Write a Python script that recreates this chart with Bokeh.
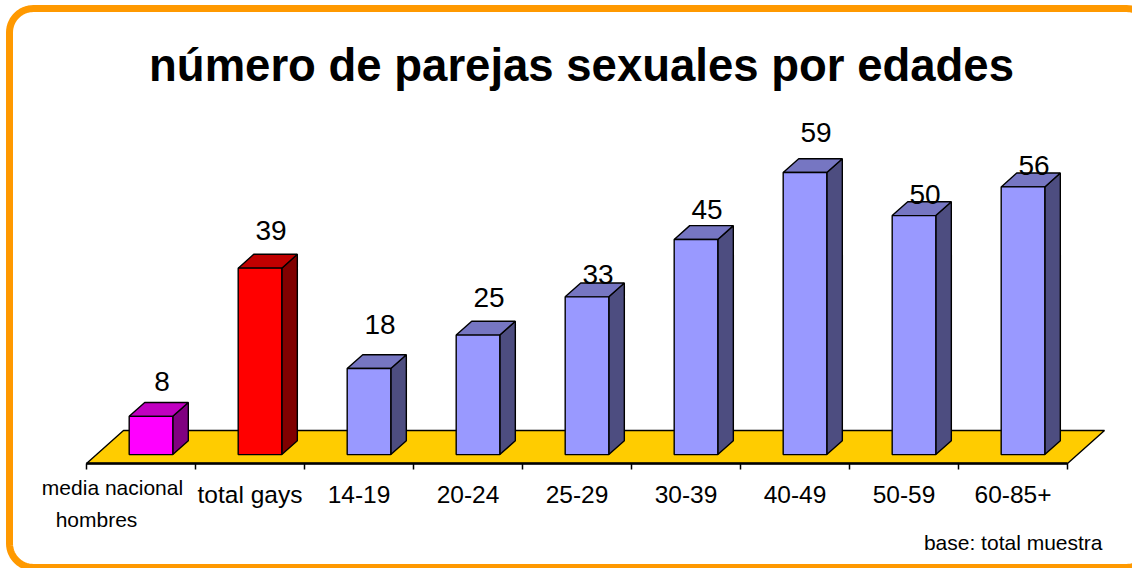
import numpy as np
from bokeh.plotting import figure
from bokeh.models import FixedTicker
from bokeh.core.properties import value
from bokeh.embed import file_html
from bokeh.resources import INLINE

# ---------------- data ----------------
categories = ["media nacional hombres", "total gays", "14-19", "20-24", "25-29",
              "30-39", "40-49", "50-59", "60-85+"]
values = [8, 39, 18, 25, 33, 45, 59, 50, 56]
front_colors = ["#FF00FF", "#FF0000"] + ["#9999FF"] * 7
top_colors = ["#C000C0", "#C00000"] + ["#7676C2"] * 7
side_colors = ["#800080", "#800000"] + ["#4D4D80"] * 7
title_text = "número de parejas sexuales por edades"
note_text = "base: total muestra"

# style: gap (px) between bar top and its value label, as placed in the original
label_gap_px = [24, 27, 34, 27, 12, 20, 30, 11, 11]

# ---------------- geometry (3D oblique projection) ----------------
W, H = 1132, 568
X0_PX, Y0_PX = 86.0, 463.0   # where x=0 / y=0 sit on the canvas
PX_X = 109.0                 # pixels per category
PX_Y = 4.78                  # pixels per value unit
DX = 37.0 / PX_X             # floor depth, x component (category units)
DY = 33.0 / PX_Y             # floor depth, y component (value units)
D0, D1 = 0.27, 0.69          # bar depth extent (fraction of floor depth)
BAR_W = 0.40
LABEL_D = 0.57
FB = 568.0                   # frame bottom (canvas px)
TXT = 0.37                   # renderer baseline correction (em)

FONT = "Liberation Sans"


def dx_(px):
    return (px - X0_PX) / PX_X


def dy_(py):
    return (Y0_PX - py) / PX_Y


p = figure(width=W, height=H, x_range=(dx_(0), dx_(W)), y_range=(dy_(FB), dy_(0)),
           output_backend="svg", toolbar_location=None, y_axis_location=None,
           min_border_left=0, min_border_right=0, min_border_top=0, min_border_bottom=0)
p.background_fill_color = "white"
p.border_fill_color = "white"
p.outline_line_color = None
p.xgrid.visible = False
p.ygrid.visible = False

n = len(values)
# floor
p.patch([0, n, n + DX, DX], [0, 0, DY, DY], fill_color="#FFCC00",
        line_color="black", line_width=1.4)

# bars
fx, fy, tx, ty, sx, sy = [], [], [], [], [], []
dd = D1 - D0
for i, v in enumerate(values):
    xl = i + 0.5 - BAR_W / 2 + D0 * DX
    xr = xl + BAR_W
    yb = D0 * DY
    yt = yb + v
    fx.append([xl, xr, xr, xl]); fy.append([yb, yb, yt, yt])
    tx.append([xl, xr, xr + dd * DX, xl + dd * DX]); ty.append([yt, yt, yt + dd * DY, yt + dd * DY])
    sx.append([xr, xr + dd * DX, xr + dd * DX, xr]); sy.append([yb, yb + dd * DY, yt + dd * DY, yt])

p.patches(sx, sy, fill_color=side_colors, line_color="black", line_width=1.4)
p.patches(tx, ty, fill_color=top_colors, line_color="black", line_width=1.4)
p.patches(fx, fy, fill_color=front_colors, line_color="black", line_width=1.4)

# value labels
lx = [i + 0.5 + LABEL_D * DX for i in range(n)]
ly = [v + D0 * DY for v in values]
p.text(x=lx, y=ly, text=[str(v) for v in values], text_align="center",
       text_baseline="alphabetic", y_offset=[-g - TXT * 28 for g in label_gap_px],
       text_font=value(FONT), text_font_size="28px", text_color="black")

# x axis (fixed at the floor front edge)
ax = p.xaxis[0]
centers = [i + 0.5 for i in range(n)]
ax.fixed_location = 0
ax.ticker = FixedTicker(ticks=centers, minor_ticks=list(range(n + 1)))
ax.bounds = (0, n)
ax.major_label_overrides = {c: "" for c in centers}
ax.major_label_text_font_size = "1px"
ax.major_label_standoff = 0
ax.axis_line_color = "black"
ax.axis_line_width = 2.5
ax.major_tick_in = 0
ax.major_tick_out = 0
ax.minor_tick_in = 0
ax.minor_tick_out = 6
ax.minor_tick_line_color = "black"
ax.minor_tick_line_width = 1.5

# category labels
p.text(x=centers[1:], y=[0] * (n - 1), text=categories[1:], text_align="center",
       text_baseline="alphabetic", y_offset=40 - TXT * 24.5, text_font=value(FONT),
       text_font_size="24.5px", text_color="black")
first_l1, first_l2 = categories[0].rsplit(" ", 1)
p.text(x=[centers[0], centers[0]], y=[0, 0], text=[first_l1, first_l2],
       text_align="center", text_baseline="alphabetic",
       x_offset=[-28.5, -44.5], y_offset=[32 - TXT * 21, 64 - TXT * 21], text_font=value(FONT),
       text_font_size="21px", text_color="black")

# title and note
p.text(x=[dx_(581)], y=[dy_(82)], text=[title_text], text_align="center",
       text_baseline="alphabetic", y_offset=-TXT * 45.5, text_font=value(FONT),
       text_font_style="bold", text_font_size="45.5px", text_color="black")
p.text(x=[dx_(1102)], y=[dy_(550)], text=[note_text], text_align="right",
       text_baseline="alphabetic", y_offset=-TXT * 21, text_font=value(FONT),
       text_font_size="21px", text_color="black")

# orange rounded frame (pixel geometry -> data)
L, T, R, B, RAD = 9.0, 8.0, 1150.0, 567.0, 24.0
t = np.linspace(0, np.pi / 2, 16)
px = np.concatenate([L + RAD - RAD * np.cos(t), R - RAD + RAD * np.sin(t),
                     R - RAD + RAD * np.cos(t), L + RAD - RAD * np.sin(t)])
py = np.concatenate([T + RAD - RAD * np.sin(t), T + RAD - RAD * np.cos(t),
                     B - RAD + RAD * np.sin(t), B - RAD + RAD * np.cos(t)])
p.patch(dx_(px), dy_(py), fill_color=None, line_color="#FF9900", line_width=7,
        line_join="round")

open("out.html", "w").write(file_html(p, INLINE))
